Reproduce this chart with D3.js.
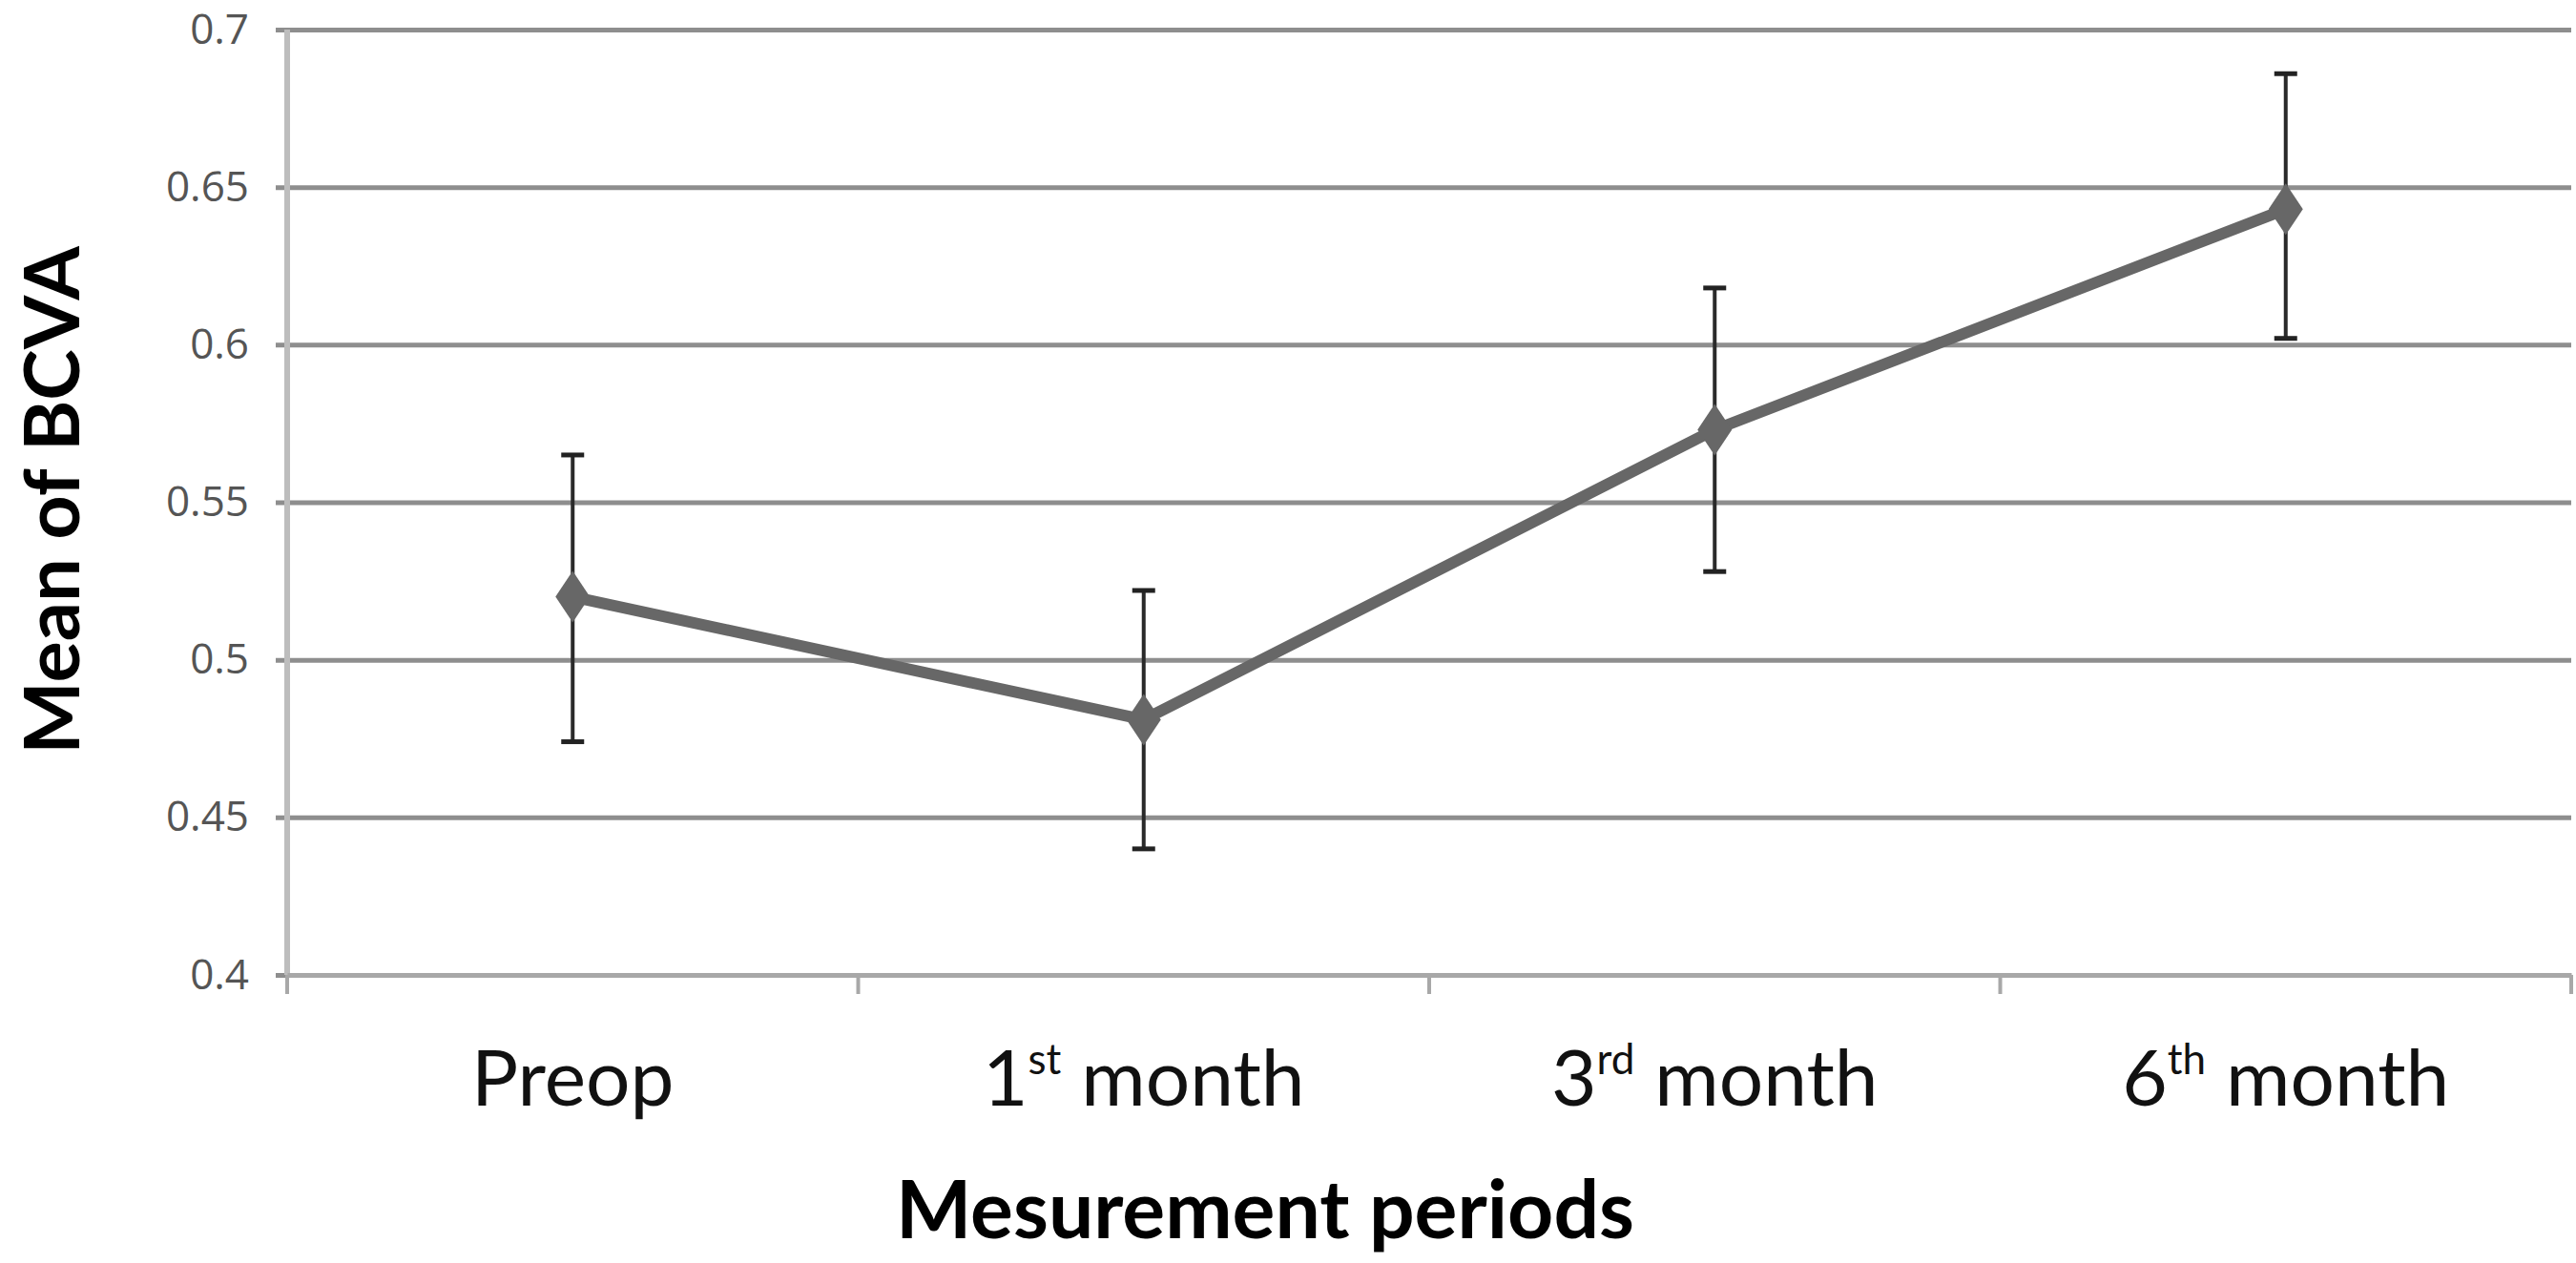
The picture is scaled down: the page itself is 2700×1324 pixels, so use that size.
<!DOCTYPE html>
<html>
<head>
<meta charset="utf-8">
<script src="https://cdn.jsdelivr.net/npm/d3@7"></script>
<style>
  body { margin: 0; background: #fff; }
  svg { display: block; }
</style>
</head>
<body>
<div id="chart-area"></div>
<script>
// data
const periods = ["Preop", "1st month", "3rd month", "6th month"];
const periodNum = ["", "1", "3", "6"];
const periodSup = ["", "st", "rd", "th"];
const meanBCVA = [0.520, 0.481, 0.573, 0.643];
const errHigh = [0.565, 0.522, 0.618, 0.686];
const errLow = [0.474, 0.440, 0.528, 0.602];
const yTicks = [0.4, 0.45, 0.5, 0.55, 0.6, 0.65, 0.7];

const W = 2700, H = 1324;
const margin = { top: 31, right: 5, bottom: 302, left: 301 };
const width = W - margin.left - margin.right;
const height = H - margin.top - margin.bottom;

const svg = d3.select("#chart-area")
  .append("svg")
  .attr("width", W)
  .attr("height", H)
  .append("g")
  .attr("transform", `translate(${margin.left},${margin.top})`);

const x = d3.scaleBand().domain(periods).range([0, width]);
const y = d3.scaleLinear().domain([0.4, 0.7]).range([height, 0]);

// gridlines + y labels
svg.append("g")
  .call(d3.axisLeft(y).tickValues(yTicks).tickSize(-width).tickPadding(40)
    .tickFormat(d => d3.format("")(+d.toFixed(2))))
  .call(g => g.select(".domain").remove())
  .call(g => g.selectAll(".tick line")
    .attr("x1", -12)
    .attr("stroke", "#8e8e8e")
    .attr("stroke-width", 5))
  .call(g => g.selectAll(".tick text")
    .attr("fill", "#555")
    .style("font-family", "'Liberation Sans Narrow', 'Open Sans', sans-serif")
    .style("font-size", "44px"));

// y axis line
svg.append("line")
  .attr("x1", 0).attr("x2", 0)
  .attr("y1", 0).attr("y2", height)
  .attr("stroke", "#bdbdbd")
  .attr("stroke-width", 6);

// x axis
const xAxis = svg.append("g")
  .attr("transform", `translate(0,${height})`)
  .call(d3.axisBottom(x).tickSize(0).tickFormat(""));
xAxis.select(".domain").attr("stroke", "#a8a8a8").attr("stroke-width", 5);

// category boundary ticks
const bounds = periods.map(p => x(p)).concat([width]);
svg.selectAll(".xtick")
  .data(bounds)
  .enter().append("line")
  .attr("class", "xtick")
  .attr("x1", d => d).attr("x2", d => d)
  .attr("y1", height).attr("y2", height + 20)
  .attr("stroke", "#a8a8a8")
  .attr("stroke-width", 4);

// x labels with superscripts
const lab = svg.selectAll(".xlab")
  .data(periods)
  .enter().append("text")
  .attr("class", "xlab")
  .attr("x", d => x(d) + x.bandwidth() / 2)
  .attr("y", height + 137)
  .attr("text-anchor", "middle")
  .style("font-family", "Lato, 'Open Sans', sans-serif")
  .style("font-size", "82px")
  .attr("fill", "#111");
lab.each(function(d, i) {
  const t = d3.select(this);
  if (!periodSup[i]) { t.text(d); return; }
  t.append("tspan").text(periodNum[i]);
  t.append("tspan").text(periodSup[i])
    .style("font-size", "44px")
    .attr("dy", -33);
  t.append("tspan").text(" month").attr("dy", 33);
});

// axis titles
svg.append("text")
  .attr("x", 1326 - margin.left)
  .attr("y", height + 276)
  .attr("text-anchor", "middle")
  .style("font-family", "Lato, 'Open Sans', sans-serif")
  .style("font-weight", "bold")
  .style("font-size", "84px")
  .attr("fill", "#000")
  .text("Mesurement periods");

svg.append("text")
  .attr("transform", `translate(${-218},${height / 2 - 2}) rotate(-90)`)
  .attr("text-anchor", "middle")
  .style("font-family", "Lato, 'Open Sans', sans-serif")
  .style("font-weight", "bold")
  .style("font-size", "81px")
  .attr("fill", "#000")
  .text("Mean of BCVA");

const cx = i => x(periods[i]) + x.bandwidth() / 2;

// line
svg.append("path")
  .datum(meanBCVA)
  .attr("fill", "none")
  .attr("stroke", "#676767")
  .attr("stroke-width", 12)
  .attr("stroke-linejoin", "round")
  .attr("d", d3.line().x((d, i) => cx(i)).y(d => y(d)));

// error bars
const eb = svg.selectAll(".err")
  .data(meanBCVA)
  .enter().append("g")
  .attr("class", "err");
eb.append("line")
  .attr("x1", (d, i) => cx(i)).attr("x2", (d, i) => cx(i))
  .attr("y1", (d, i) => y(errHigh[i])).attr("y2", (d, i) => y(errLow[i]))
  .attr("stroke", "#2a2a2a").attr("stroke-width", 4);
[errHigh, errLow].forEach(arr => {
  eb.append("line")
    .attr("x1", (d, i) => cx(i) - 12).attr("x2", (d, i) => cx(i) + 12)
    .attr("y1", (d, i) => y(arr[i])).attr("y2", (d, i) => y(arr[i]))
    .attr("stroke", "#222").attr("stroke-width", 5);
});

// diamond markers
svg.selectAll(".pt")
  .data(meanBCVA)
  .enter().append("path")
  .attr("class", "pt")
  .attr("transform", (d, i) => `translate(${cx(i)},${y(d)})`)
  .attr("d", "M0,-27L18,0L0,27L-18,0Z")
  .attr("fill", "#676767");
</script>
</body>
</html>
